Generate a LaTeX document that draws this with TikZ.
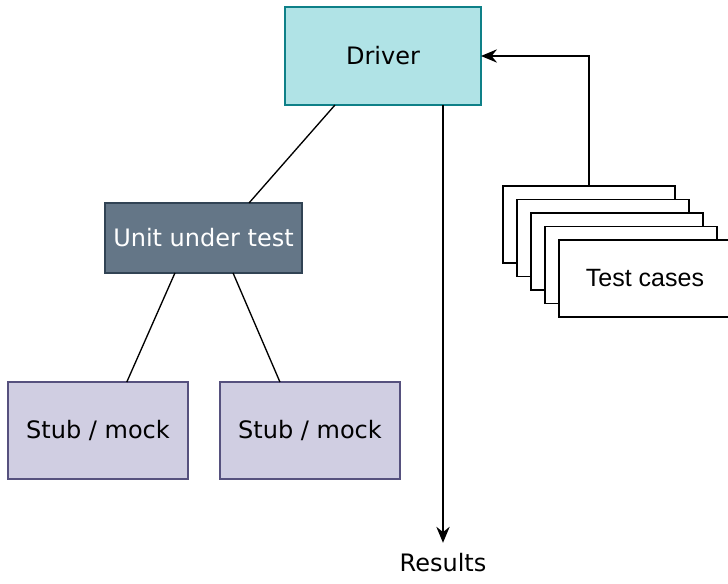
\documentclass[tikz,border=0pt]{standalone}
\usepackage{fontspec}
\setmainfont{DejaVu Sans}
\newfontfamily\casefont{Liberation Sans}
\usetikzlibrary{calc}
\usetikzlibrary{arrows.meta}

\definecolor{driverfill}{HTML}{B0E3E6}
\definecolor{driverline}{HTML}{0E8088}
\definecolor{unitfill}{HTML}{647687}
\definecolor{unitline}{HTML}{314354}
\definecolor{stubfill}{HTML}{D0CEE2}
\definecolor{stubline}{HTML}{56517E}

\tikzset{
    box/.style={draw, line width=1.1pt, outer sep=0pt, inner sep=0pt,
        font=\fontsize{18}{21}\selectfont},
    driverbox/.style={box, fill=driverfill, draw=driverline,
        minimum width=147pt, minimum height=73.5pt},
    unitbox/.style={box, fill=unitfill, draw=unitline, text=white,
        minimum width=147.75pt, minimum height=52.5pt},
    stubbox/.style={box, fill=stubfill, draw=stubline,
        minimum width=135pt, minimum height=72.75pt},
    casebox/.style={box, fill=white, draw=black, line width=1pt,
        minimum width=129pt, minimum height=57.75pt,
        font=\casefont\fontsize{18.75}{22}\selectfont},
    link/.style={line width=1pt},
    flow/.style={line width=1pt, -{Stealth[length=12pt, width=10pt, inset=4pt]}}
}

\begin{document}
\begin{tikzpicture}[x=0.75pt, y=-0.75pt]
    \useasboundingbox (0,0) rectangle (728,584);

    % Draw the driver, the unit and its stubs
    \node[driverbox] (driver) at (383,56) {Driver};
    \node[unitbox] (unit) at (203.5,238) {Unit under test};
    \node[stubbox] (stubA) at (98,430.5) {Stub / mock};
    \node[stubbox] (stubB) at (310,430.5) {Stub / mock};

    % Draw the stack of test cases
    \foreach \i [evaluate=\i as \cx using 589+14*(\i-1),
                 evaluate=\i as \cy using 224.5+13.5*(\i-1)] in {1,...,4}
        \node[casebox] (tc\i) at (\cx,\cy) {};
    \node[casebox] (tc5) at (645,278.5) {Test cases};

    \node[font=\fontsize{18}{21}\selectfont, inner sep=2pt] (results) at (443,563) {Results};

    % Draw the links
    \draw[link] ($(driver.south west)!0.255!(driver.south east)$) -- ($(unit.north west)!0.731!(unit.north east)$);
    \draw[link] ($(unit.south west)!0.355!(unit.south east)$) -- ($(stubA.north west)!0.66!(stubA.north east)$);
    \draw[link] ($(unit.south west)!0.65!(unit.south east)$) -- ($(stubB.north west)!0.333!(stubB.north east)$);

    % Draw the arrows
    \draw[flow] (tc1.north) |- (driver.east);
    \draw[flow] (driver.south -| results) -- ($(results.north)+(0,-8)$);
\end{tikzpicture}
\end{document}
